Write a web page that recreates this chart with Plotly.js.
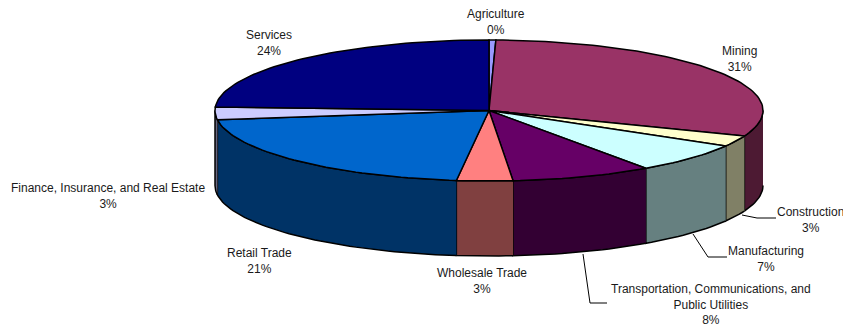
<!DOCTYPE html>
<html>
<head>
<meta charset="utf-8">
<script src="https://cdn.plot.ly/plotly-3.0.1.min.js"></script>
<style>html,body{margin:0;padding:0;background:#fff}#chart{width:843px;height:327px}</style>
</head>
<body>
<div id="chart"></div>
<script>
// Sector shares, in pie order, clockwise from twelve o'clock
const sectors = ['Agriculture', 'Mining', 'Construction', 'Manufacturing',
  'Transportation, Communications, and<br>Public Utilities', 'Wholesale Trade',
  'Retail Trade', 'Finance, Insurance, and Real Estate', 'Services'];
const shares = [0.4, 30.5, 2.5, 6.9, 8.3, 3.3, 21.0, 2.9, 24.2];
const topColors = ['#9999FF', '#993366', '#FFFFCC', '#CCFFFF', '#660066', '#FF8080', '#0066CC', '#CCCCFF', '#000080'];

// Centres of the label blocks, in page pixels
const labelX = [496, 739, 810, 766, 710.5, 481.5, 259, 108, 269];
const labelY = [22, 59, 220, 259, 304.5, 281, 261, 196, 42.5];

// Elbow leader lines for Construction, Manufacturing and Transportation
const leaders = [
  {x: [742, 757, 776], y: [215, 218, 218]},
  {x: [693, 708, 727], y: [234, 257, 257]},
  {x: [583, 590, 607], y: [254, 303, 303]}
];

// Ellipse of the pie's top face and height of its wall
const cx = 489, cy = 110.5, rx = 274, ry = 70.5, depth = 75;

function rimPoint(deg, drop) {
  const a = deg * Math.PI / 180;
  return [cx + rx * Math.sin(a), cy - ry * Math.cos(a) + drop];
}

function arc(from, to, drop) {
  const n = Math.max(2, Math.ceil(Math.abs(to - from) / 1.5));
  const pts = [];
  for (let i = 0; i <= n; i++) pts.push(rimPoint(from + (to - from) * i / n, drop));
  return pts;
}

function halfTone(hex) {
  const c = [1, 3, 5].map(i => Math.round(parseInt(hex.substr(i, 2), 16) / 2));
  return `rgb(${c[0]},${c[1]},${c[2]})`;
}

function polygon(pts, fill) {
  return {
    type: 'scatter', mode: 'lines', fill: 'toself', fillcolor: fill,
    x: pts.map(p => p[0]), y: pts.map(p => p[1]),
    line: {color: '#000', width: 1.5}, hoverinfo: 'skip', showlegend: false
  };
}

const total = shares.reduce((a, b) => a + b, 0);
const walls = [], tops = [];
let start = 0;
shares.forEach((v, i) => {
  const end = start + v / total * 360;
  // Only the part of the rim facing the viewer has a visible wall
  const from = Math.max(start, 90), to = Math.min(end, 270);
  if (to > from) {
    walls.push(polygon(arc(from, to, 0).concat(arc(to, from, depth)), halfTone(topColors[i])));
  }
  tops.push(polygon([[cx, cy]].concat(arc(start, end, 0), [[cx, cy]]), topColors[i]));
  start = end;
});

const leaderTraces = leaders.map(l => ({
  type: 'scatter', mode: 'lines', x: l.x, y: l.y,
  line: {color: '#000', width: 1}, hoverinfo: 'skip', showlegend: false
}));

const annotations = sectors.map((name, i) => ({
  xref: 'x', yref: 'y', x: labelX[i], y: labelY[i],
  xanchor: 'center', yanchor: 'middle', align: 'center', showarrow: false,
  text: `${name}<br>${Math.round(shares[i])}%`,
  font: {family: '"Liberation Sans", Arial, sans-serif', size: 12, color: '#1a1a1a'}
}));

Plotly.newPlot('chart', walls.concat(tops, leaderTraces), {
  width: 843, height: 327,
  margin: {l: 0, r: 0, t: 0, b: 0},
  paper_bgcolor: '#fff', plot_bgcolor: '#fff',
  showlegend: false,
  xaxis: {range: [0, 843], visible: false, fixedrange: true},
  yaxis: {range: [327, 0], visible: false, fixedrange: true},
  annotations
}, {displayModeBar: false, staticPlot: true});
</script>
</body>
</html>
